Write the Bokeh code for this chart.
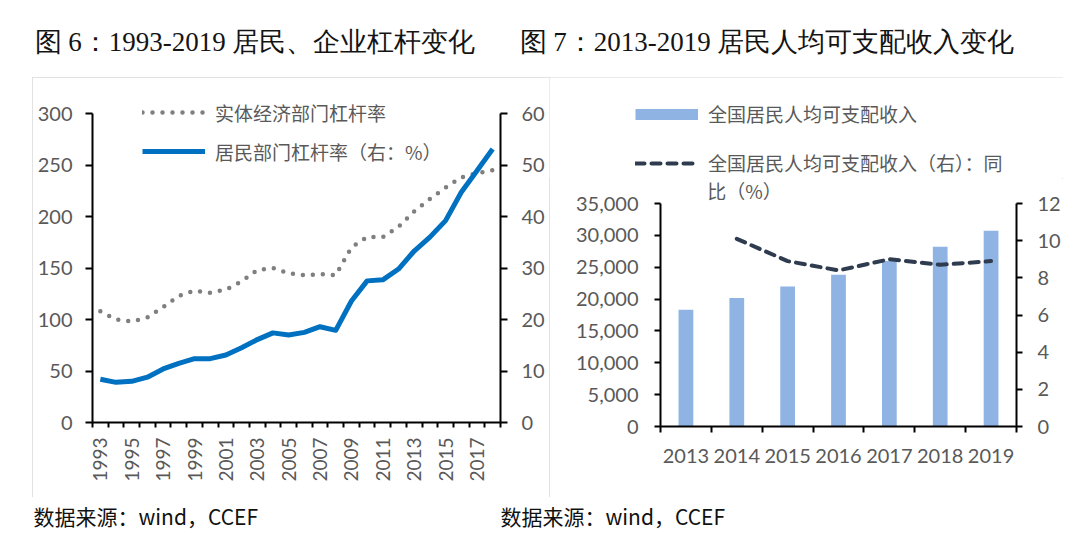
import math
from bokeh.plotting import figure
from bokeh.models import (Range1d, LinearAxis, FixedTicker, NumeralTickFormatter, Legend,
                          LegendItem, Label, Spacer)
from bokeh.layouts import column, row
from bokeh.embed import file_html
from bokeh.resources import INLINE

# ---------------- data ----------------
lev_years = list(range(1993, 2019))
real_economy_lev = [108, 100, 98, 102, 112, 123, 128, 126, 129, 137, 148, 150, 145,
                    143, 144, 143, 170, 180, 180, 190, 205, 217, 228, 238, 242, 245]
household_lev = [8.4, 7.8, 8.0, 8.8, 10.4, 11.5, 12.4, 12.4, 13.1, 14.5, 16.1, 17.4, 17.0,
                 17.5, 18.6, 17.9, 23.6, 27.5, 27.7, 29.8, 33.3, 36.0, 39.2, 44.7, 48.9, 53.1]
lev_label_years = list(range(1993, 2018, 2))
lev_left_ticks = [0, 50, 100, 150, 200, 250, 300]
lev_right_ticks = [0, 10, 20, 30, 40, 50, 60]

inc_years = [2013, 2014, 2015, 2016, 2017, 2018, 2019]
income = [18311, 20167, 21966, 23821, 25974, 28228, 30733]
growth_years = [2014, 2015, 2016, 2017, 2018, 2019]
income_growth = [10.1, 8.9, 8.4, 9.0, 8.7, 8.9]
inc_left_ticks = [0, 5000, 10000, 15000, 20000, 25000, 30000, 35000]
inc_right_ticks = [0, 2, 4, 6, 8, 10, 12]

title6 = "图 6：1993-2019 居民、企业杠杆变化"
title7 = "图 7：2013-2019 居民人均可支配收入变化"
source_text = "数据来源：wind，CCEF"
leg_real = "实体经济部门杠杆率"
leg_house = "居民部门杠杆率（右：%）"
leg_income = "全国居民人均可支配收入"
leg_growth_1 = "全国居民人均可支配收入（右）：同"
leg_growth_2 = "比（%）"

# ---------------- styles / layout (pixels) ----------------
TICK_FONT = "Lato"
CJK_FONT = "Noto Sans CJK SC"
LABEL_COLOR = "#595959"
BLUE = "#0070C0"
GRAY = "#7F7F7F"
BAR = "#8FB4E3"
NAVY = "#2F3C4F"
PANEL_STYLE = {"outline": "1.5px solid #D9D9D9", "outline-offset": "-1.5px"}

TOP_H, MID_H, BOT_H = 77, 420, 36
MID_BOT = TOP_H + MID_H
L_X0, L_X1 = 32, 549                      # left panel
R_X0, R_X1 = 549, 1063                    # right panel
# left chart
L_FRAME_TOP, L_AX_TOP, L_AX_BOT = 82, 113, 422
L_AX_L, L_AX_R = 92, 500
# right chart
R_SPLIT = 178                              # legend strip / chart split
R_AX_TOP, R_AX_BOT = 203, 426
R_AX_L, R_AX_R = 660, 1016


def base_fig(w, h, **kw):
    return figure(width=w, height=h, toolbar_location=None, output_backend="svg",
                  outline_line_color=None, border_fill_color="white",
                  background_fill_color="white", **kw)


def style_axis(ax, size="20px", tick_out=7):
    ax.axis_line_color = "black"
    ax.axis_line_width = 2
    ax.major_tick_line_color = "black"
    ax.major_tick_line_width = 2
    ax.major_tick_in = 0
    ax.major_tick_out = tick_out
    ax.minor_tick_line_color = None
    ax.major_label_text_font = TICK_FONT
    ax.major_label_text_font_size = size
    ax.major_label_text_color = LABEL_COLOR
    ax.axis_label = None


def legend(items, loc, spacing):
    return Legend(items=items, location=loc, glyph_width=63, glyph_height=28,
                  label_height=28, spacing=spacing, padding=0, margin=0,
                  border_line_color=None, background_fill_alpha=0, label_standoff=10,
                  label_text_font=CJK_FONT, label_text_font_size="19px",
                  label_text_color=LABEL_COLOR)


# ---------------- top titles ----------------
top = base_fig(1080, TOP_H, x_range=Range1d(0, 1080), y_range=Range1d(TOP_H, 0),
               x_axis_type=None, y_axis_type=None, min_border=0)
for tx, t in [(34, title6), (519, title7)]:
    top.add_layout(Label(x=tx, y=41, text=t, text_font="Liberation Serif",
                         text_font_size="27px", text_baseline="middle", text_color="#141414"))

# ---------------- left chart ----------------
l_scale = (L_AX_BOT - L_FRAME_TOP) / (L_AX_BOT - L_AX_TOP)
pl = base_fig(L_X1 - L_X0, MID_H,
              x_range=Range1d(lev_years[0] - 0.5, lev_years[-1] + 0.5),
              y_range=Range1d(0, lev_left_ticks[-1] * l_scale),
              min_border_left=L_AX_L - L_X0, min_border_right=L_X1 - L_AX_R,
              min_border_top=L_FRAME_TOP - TOP_H, min_border_bottom=MID_BOT - L_AX_BOT,
              styles=PANEL_STYLE)
pl.grid.visible = False
pl.extra_y_ranges = {"r": Range1d(0, lev_right_ticks[-1] * l_scale)}

r_real = pl.line(lev_years, real_economy_lev, line_color=GRAY, line_width=4.5,
                 line_dash="0 10", line_cap="round")
r_house = pl.line(lev_years, household_lev, y_range_name="r", line_color=BLUE,
                  line_width=5, line_join="round")

xa = pl.xaxis[0]
style_axis(xa, "19px", 5)
xa.ticker = FixedTicker(ticks=lev_label_years,
                        minor_ticks=[y - 0.5 for y in lev_years] + [lev_years[-1] + 0.5])
xa.major_tick_line_color = None
xa.minor_tick_line_color = "black"
xa.minor_tick_line_width = 2
xa.minor_tick_in = 0
xa.minor_tick_out = 5
xa.major_label_orientation = math.pi / 2
xa.major_label_standoff = 10

ya = pl.yaxis[0]
style_axis(ya)
ya.ticker = FixedTicker(ticks=lev_left_ticks)
ya.bounds = (lev_left_ticks[0], lev_left_ticks[-1])
ya.major_label_standoff = 13

yr = LinearAxis(y_range_name="r", ticker=FixedTicker(ticks=lev_right_ticks),
                bounds=(lev_right_ticks[0], lev_right_ticks[-1]))
style_axis(yr)
yr.major_label_standoff = 14
pl.add_layout(yr, "right")

pl.add_layout(legend([LegendItem(label=leg_real, renderers=[r_real]),
                      LegendItem(label=leg_house, renderers=[r_house])],
                     (142 - L_AX_L, L_AX_BOT - 165), 11))

# ---------------- right chart: legend strip ----------------
legR = base_fig(R_X1 - R_X0, R_SPLIT - TOP_H, x_range=Range1d(0, 1), y_range=Range1d(0, 1),
                x_axis_type=None, y_axis_type=None, min_border=0)
# legend key renderers (their data lies outside this strip's ranges, so only the keys show)
k_income = legR.line(growth_years, income_growth, line_color=BAR, line_width=11,
                     line_cap="butt")
k_growth = legR.line(growth_years, income_growth, line_color=NAVY, line_width=4,
                     line_dash="9 7", line_cap="round")
legR.add_layout(legend([LegendItem(label=leg_income, renderers=[k_income]),
                        LegendItem(label=leg_growth_1, renderers=[k_growth])],
                       (635 - R_X0, R_SPLIT - 176.7), 21))

# ---------------- right chart: plot ----------------
r_scale = (R_AX_BOT - R_SPLIT) / (R_AX_BOT - R_AX_TOP)
pr = base_fig(R_X1 - R_X0, MID_BOT - R_SPLIT,
              x_range=Range1d(inc_years[0] - 0.5, inc_years[-1] + 0.5),
              y_range=Range1d(0, inc_left_ticks[-1] * r_scale),
              min_border_left=R_AX_L - R_X0, min_border_right=R_X1 - R_AX_R,
              min_border_top=0, min_border_bottom=MID_BOT - R_AX_BOT)
pr.grid.visible = False
pr.extra_y_ranges = {"r": Range1d(0, inc_right_ticks[-1] * r_scale)}

pr.vbar(x=inc_years, top=income, width=0.29, fill_color=BAR, line_color=None)
pr.line(growth_years, income_growth, y_range_name="r", line_color=NAVY,
        line_width=4, line_dash="9 7", line_cap="round")

xb = pr.xaxis[0]
style_axis(xb, "20px", 6)
xb.ticker = FixedTicker(ticks=inc_years,
                        minor_ticks=[y - 0.5 for y in inc_years] + [inc_years[-1] + 0.5])
xb.major_tick_line_color = None
xb.minor_tick_line_color = "black"
xb.minor_tick_line_width = 2
xb.minor_tick_in = 0
xb.minor_tick_out = 6
xb.major_label_standoff = 16

yb = pr.yaxis[0]
style_axis(yb, "20px", 6)
yb.ticker = FixedTicker(ticks=inc_left_ticks)
yb.formatter = NumeralTickFormatter(format="0,0")
yb.bounds = (inc_left_ticks[0], inc_left_ticks[-1])
yb.major_label_standoff = 16

ybr = LinearAxis(y_range_name="r", ticker=FixedTicker(ticks=inc_right_ticks),
                 bounds=(inc_right_ticks[0], inc_right_ticks[-1]))
style_axis(ybr, "20px", 6)
ybr.major_label_standoff = 15
pr.add_layout(ybr, "right")

pr.add_layout(Label(x=706.7 - R_AX_L, y=R_AX_BOT - 190, x_units="screen", y_units="screen",
                    text=leg_growth_2, text_font=CJK_FONT, text_font_size="19px",
                    text_color=LABEL_COLOR, text_baseline="middle"))

# legend strip wrapped in its own row so its frame is not aligned with the chart below
right_panel = column(row(legR), pr, styles=PANEL_STYLE)

# ---------------- bottom sources ----------------
bot = base_fig(1080, BOT_H, x_range=Range1d(0, 1080), y_range=Range1d(BOT_H, 0),
               x_axis_type=None, y_axis_type=None, min_border=0)
for sx in [33, 500]:
    bot.add_layout(Label(x=sx, y=18, text=source_text, text_font=CJK_FONT,
                         text_font_size="21px", text_baseline="middle", text_color="#111111"))

middle = row(Spacer(width=L_X0, height=MID_H), pl, right_panel,
             Spacer(width=1080 - R_X1, height=MID_H))
layout = column(top, middle, bot)
open("out.html", "w").write(file_html(layout, INLINE))
